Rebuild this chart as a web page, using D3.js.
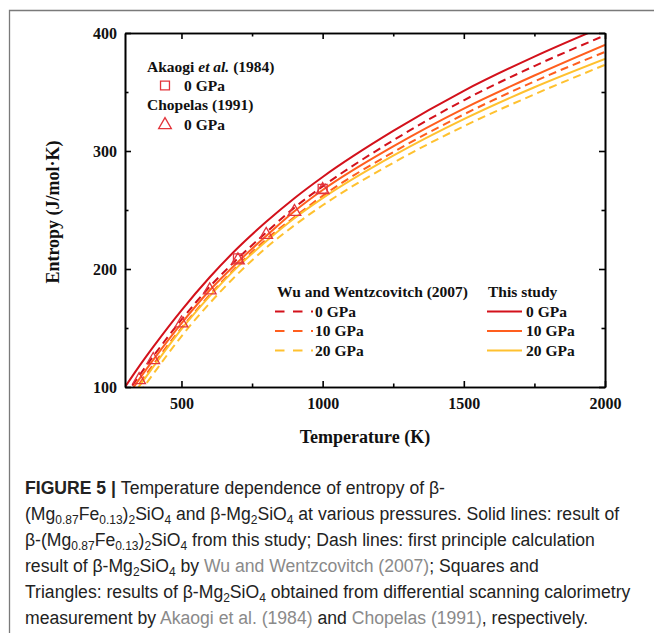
<!DOCTYPE html>
<html lang="en">
<head>
<meta charset="UTF-8">
<title>Entropy vs temperature</title>
<script src="https://cdn.jsdelivr.net/npm/d3@7"></script>
<style>
  body { margin: 0; background: #fff; }
  svg { display: block; }
  .tick text { font-family: "Liberation Serif", "Times New Roman", serif; font-weight: bold; font-size: 16px; fill: #111; }
  .axis path, .axis line { stroke: #000; stroke-width: 1.6px; }
  .leg { font-family: "Liberation Serif", "Times New Roman", serif; font-weight: bold; font-size: 15.5px; fill: #111; }
  .cap { font-family: "Liberation Sans", Arial, sans-serif; font-size: 17.6px; fill: #222; }
</style>
</head>
<body>
<script>
// temperatures (K) at which the curves were read
var temps = [300, 350, 400, 500, 600, 700, 800, 900, 1000, 1250, 1500, 1750, 2000];

// This study, beta-(Mg0.87Fe0.13)2SiO4
var study0  = [100, 117.5, 134, 165, 193, 218, 240, 260, 278, 317, 351, 380, 406];
var study10 = [89, 106.5, 123, 154, 182, 206, 228, 249, 267, 304, 336, 364, 390];
var study20 = [83, 100.5, 117, 149, 177, 202, 223.5, 243, 260, 296, 327, 354, 378];

// Wu and Wentzcovitch (2007)
var wu0  = [92, 109.5, 126, 157, 185, 209, 231, 252, 270, 309, 343, 372, 398];
var wu10 = [85, 102.5, 119, 150, 178, 203, 225, 244, 262, 299, 331, 359, 384];
var wu20 = [76, 94.5, 111, 143, 171, 196, 218, 237, 254, 290, 321, 348, 373];

// Akaogi et al. (1984), squares
var akaogiT = [700, 1000];
var akaogiS = [209, 268];

// Chopelas (1991), triangles
var chopelasT = [350, 400, 500, 600, 700, 800, 900, 1000];
var chopelasS = [106, 123, 154, 182, 207.5, 229, 248.5, 267];

var xMajor = [500, 1000, 1500, 2000];
var xMinor = [750, 1250, 1750];
var yMajor = [100, 200, 300, 400];
var yMinor = [150, 250, 350];

var pressures = ["0 GPa", "10 GPa", "20 GPa"];
var colors = ["#d3111b", "#ff5e1e", "#ffc12f"];
var markColor = "#e3343b";

var caption = [
  [{t: "FIGURE 5 | ", b: true}, {t: "Temperature dependence of entropy of β-"}],
  [{t: "(Mg"}, {t: "0.87", s: true}, {t: "Fe"}, {t: "0.13", s: true}, {t: ")"}, {t: "2", s: true}, {t: "SiO"}, {t: "4", s: true},
   {t: " and β-Mg"}, {t: "2", s: true}, {t: "SiO"}, {t: "4", s: true}, {t: " at various pressures. Solid lines: result of"}],
  [{t: "β-(Mg"}, {t: "0.87", s: true}, {t: "Fe"}, {t: "0.13", s: true}, {t: ")"}, {t: "2", s: true}, {t: "SiO"}, {t: "4", s: true},
   {t: " from this study; Dash lines: first principle calculation"}],
  [{t: "result of β-Mg"}, {t: "2", s: true}, {t: "SiO"}, {t: "4", s: true}, {t: " by "}, {t: "Wu and Wentzcovitch (2007)", g: true}, {t: "; Squares and"}],
  [{t: "Triangles: results of β-Mg"}, {t: "2", s: true}, {t: "SiO"}, {t: "4", s: true}, {t: " obtained from differential scanning calorimetry"}],
  [{t: "measurement by "}, {t: "Akaogi et al. (1984)", g: true}, {t: " and "}, {t: "Chopelas (1991)", g: true}, {t: ", respectively."}]
];

var W = 654, H = 633;
var margin = {top: 33, right: 49, bottom: 246, left: 125};
var width = W - margin.left - margin.right,
    height = H - margin.top - margin.bottom;

var svg = d3.select("body").append("svg")
    .attr("width", W)
    .attr("height", H);

// outer frame (cut at right and bottom)
svg.append("path")
    .attr("d", "M9.5,633 L9.5,10.5 L654,10.5")
    .attr("fill", "none")
    .attr("stroke", "#7a7a7a")
    .attr("stroke-width", 1.3);

var g = svg.append("g")
    .attr("transform", "translate(" + margin.left + "," + margin.top + ")");

var x = d3.scaleLinear().domain([300, 2000]).range([0, width]);
var y = d3.scaleLinear().domain([100, 400]).range([height, 0]);

g.append("clipPath").attr("id", "plotclip")
  .append("rect").attr("width", width).attr("height", height);

function series(vals) {
  return temps.map(function(t, i) { return [t, vals[i]]; });
}

var line = d3.line()
    .x(function(d) { return x(d[0]); })
    .y(function(d) { return y(d[1]); })
    .curve(d3.curveMonotoneX);

var curves = g.append("g").attr("clip-path", "url(#plotclip)");

[wu0, wu10, wu20].forEach(function(v, i) {
  curves.append("path")
      .datum(series(v))
      .attr("d", line)
      .attr("fill", "none")
      .attr("stroke", colors[i])
      .attr("stroke-width", 2)
      .attr("stroke-dasharray", "8,5");
});

[study0, study10, study20].forEach(function(v, i) {
  curves.append("path")
      .datum(series(v))
      .attr("d", line)
      .attr("fill", "none")
      .attr("stroke", colors[i])
      .attr("stroke-width", 2);
});

// markers
var tri = d3.symbol().type(d3.symbolTriangle).size(70);
var sq = d3.symbol().type(d3.symbolSquare).size(80);

g.selectAll(".tri").data(chopelasT).enter().append("path")
    .attr("class", "tri")
    .attr("d", tri)
    .attr("transform", function(d, i) { return "translate(" + x(d) + "," + y(chopelasS[i]) + ")"; })
    .attr("fill", "none")
    .attr("stroke", markColor)
    .attr("stroke-width", 1.3);

g.selectAll(".sq").data(akaogiT).enter().append("path")
    .attr("class", "sq")
    .attr("d", sq)
    .attr("transform", function(d, i) { return "translate(" + x(d) + "," + y(akaogiS[i]) + ")"; })
    .attr("fill", "none")
    .attr("stroke", markColor)
    .attr("stroke-width", 1.3);

// axes, ticks pointing inward
g.append("g").attr("class", "axis")
    .attr("transform", "translate(0," + height + ")")
    .call(d3.axisBottom(x).tickValues(xMajor).tickSize(-6).tickSizeOuter(0).tickPadding(11).tickFormat(d3.format("d")));
g.append("g").attr("class", "axis")
    .attr("transform", "translate(0," + height + ")")
    .call(d3.axisBottom(x).tickValues(xMinor).tickSize(-3.5).tickSizeOuter(0).tickFormat(""));
g.append("g").attr("class", "axis")
    .call(d3.axisTop(x).tickValues(xMajor).tickSize(-6).tickSizeOuter(0).tickFormat(""));
g.append("g").attr("class", "axis")
    .call(d3.axisTop(x).tickValues(xMinor).tickSize(-3.5).tickSizeOuter(0).tickFormat(""));

g.append("g").attr("class", "axis")
    .call(d3.axisLeft(y).tickValues(yMajor).tickSize(-6).tickSizeOuter(0).tickPadding(8).tickFormat(d3.format("d")));
g.append("g").attr("class", "axis")
    .call(d3.axisLeft(y).tickValues(yMinor).tickSize(-3.5).tickSizeOuter(0).tickFormat(""));
g.append("g").attr("class", "axis")
    .attr("transform", "translate(" + width + ",0)")
    .call(d3.axisRight(y).tickValues(yMajor).tickSize(-6).tickSizeOuter(0).tickFormat(""));
g.append("g").attr("class", "axis")
    .attr("transform", "translate(" + width + ",0)")
    .call(d3.axisRight(y).tickValues(yMinor).tickSize(-3.5).tickSizeOuter(0).tickFormat(""));

g.selectAll(".axis .tick text").attr("fill", "#111");

// axis titles
svg.append("text")
    .attr("class", "leg")
    .attr("x", 365).attr("y", 443)
    .attr("text-anchor", "middle")
    .style("font-size", "18px")
    .text("Temperature (K)");

svg.append("text")
    .attr("class", "leg")
    .attr("transform", "translate(59,212) rotate(-90)")
    .attr("text-anchor", "middle")
    .style("font-size", "18px")
    .text("Entropy (J/mol·K)");

// legend: experimental data
var l1 = svg.append("text").attr("class", "leg").attr("x", 147).attr("y", 72);
l1.append("tspan").text("Akaogi ");
l1.append("tspan").style("font-style", "italic").text("et al.");
l1.append("tspan").text(" (1984)");
svg.append("path").attr("d", sq)
    .attr("transform", "translate(165,85.5)")
    .attr("fill", "none").attr("stroke", markColor).attr("stroke-width", 1.3);
svg.append("text").attr("class", "leg").attr("x", 184).attr("y", 91).text(pressures[0]);

svg.append("text").attr("class", "leg").attr("x", 147).attr("y", 110).text("Chopelas (1991)");
svg.append("path").attr("d", tri)
    .attr("transform", "translate(165,125)")
    .attr("fill", "none").attr("stroke", markColor).attr("stroke-width", 1.3);
svg.append("text").attr("class", "leg").attr("x", 184).attr("y", 130).text(pressures[0]);

// legend: calculations and this study
svg.append("text").attr("class", "leg").attr("x", 277).attr("y", 297).text("Wu and Wentzcovitch (2007)");
svg.append("text").attr("class", "leg").attr("x", 488).attr("y", 297).text("This study");

var rowY = [311.5, 331, 350.5];
pressures.forEach(function(p, i) {
  svg.append("line")
      .attr("x1", 275).attr("x2", 313).attr("y1", rowY[i]).attr("y2", rowY[i])
      .attr("stroke", colors[i]).attr("stroke-width", 2).attr("stroke-dasharray", "9.5,8.5");
  svg.append("text").attr("class", "leg").attr("x", 315).attr("y", rowY[i] + 5).text(p);
  svg.append("line")
      .attr("x1", 487).attr("x2", 522).attr("y1", rowY[i]).attr("y2", rowY[i])
      .attr("stroke", colors[i]).attr("stroke-width", 2);
  svg.append("text").attr("class", "leg").attr("x", 526).attr("y", rowY[i] + 5).text(p);
});

// caption, subscripts shifted with dy relative to the running baseline
caption.forEach(function(segs, i) {
  var t = svg.append("text").attr("class", "cap").attr("x", 25).attr("y", 494 + i * 26);
  var shift = 0;
  segs.forEach(function(s) {
    var target = s.s ? 4 : 0;
    var sp = t.append("tspan").attr("dy", target - shift).text(s.t);
    shift = target;
    if (s.b) sp.style("font-weight", "bold");
    if (s.g) sp.attr("fill", "#8a8a8a");
    if (s.s) sp.style("font-size", "12px");
  });
});
</script>
</body>
</html>
